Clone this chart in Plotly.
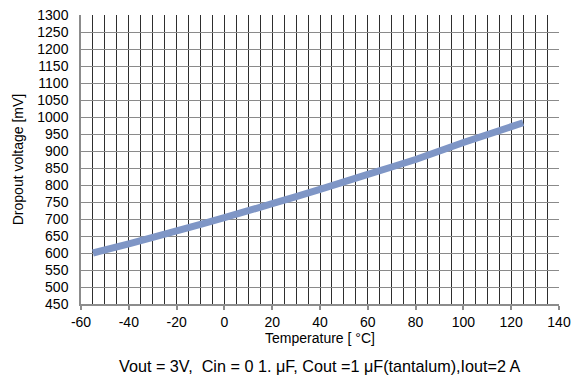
import plotly.graph_objects as go

temperature = [-55, -40, -20, 0, 20, 40, 60, 80, 100, 125]
dropout_mv = [600, 627, 665, 704, 745, 787, 831, 875, 925, 983]

x_ticks = [-60, -40, -20, 0, 20, 40, 60, 80, 100, 120, 140]
y_ticks = list(range(450, 1301, 50))

caption = "Vout = 3V,  Cin = 0 1. μF, Cout =1 μF(tantalum),Iout=2 A"

font_family = "Liberation Sans, Arial, sans-serif"

fig = go.Figure()
fig.add_trace(go.Scatter(
    x=temperature, y=dropout_mv, mode="lines",
    line=dict(color="#7f96c6", width=7, shape="spline", smoothing=0.4),
    hoverinfo="skip", showlegend=False,
))

fig.update_layout(
    width=574, height=385,
    margin=dict(l=81, r=15, t=15, b=81),
    paper_bgcolor="white", plot_bgcolor="white",
    font=dict(family=font_family, size=14, color="black"),
    xaxis=dict(
        range=[-60, 140], tickvals=x_ticks, ticktext=[str(v) for v in x_ticks],
        showgrid=True, gridcolor="#2e2e2e", gridwidth=1,
        minor=dict(dtick=5, tick0=-60, showgrid=True, gridcolor="#2e2e2e", gridwidth=1),
        showline=True, linecolor="#8c8c8c", linewidth=1.5,
        ticks="outside", ticklen=4, tickcolor="#8c8c8c", tickwidth=1.5,
        zeroline=False, tickfont=dict(size=14), automargin=False,
        title=dict(text="Temperature [ °C]", font=dict(size=14), standoff=2),
    ),
    yaxis=dict(
        range=[450, 1300], tickvals=y_ticks, ticktext=[str(v) for v in y_ticks],
        showgrid=True, gridcolor="#8a8a8a", gridwidth=1,
        showline=True, linecolor="#8c8c8c", linewidth=1.5,
        ticks="", zeroline=False, tickfont=dict(size=14), automargin=False,
        ticklabelstandoff=8,
        title=dict(text="Dropout voltage [mV]", font=dict(size=14), standoff=10),
    ),
    annotations=[dict(
        text=caption, xref="paper", yref="paper", x=0.5, y=-62 / 289,
        xanchor="center", yanchor="middle", showarrow=False,
        font=dict(size=16.2, family=font_family),
    )],
)

fig.write_html(
    "out.html",
    config={"displayModeBar": False},
    post_script="document.body.style.margin='0';document.body.style.overflow='hidden';",
)
